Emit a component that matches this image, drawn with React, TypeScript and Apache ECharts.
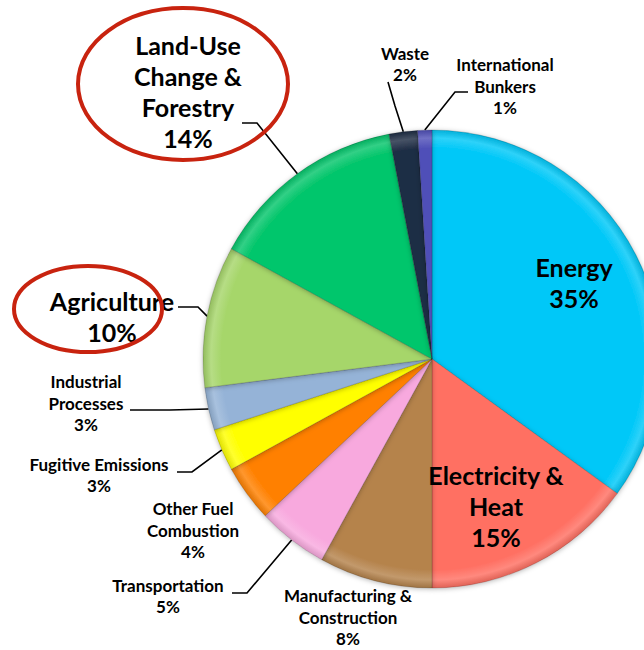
import React, { useEffect, useRef } from "react";
import * as echarts from "echarts";

const categories = [
  "Energy",
  "Electricity & Heat",
  "Manufacturing & Construction",
  "Transportation",
  "Other Fuel Combustion",
  "Fugitive Emissions",
  "Industrial Processes",
  "Agriculture",
  "Land-Use Change & Forestry",
  "Waste",
  "International Bunkers",
];
const values = [35, 15, 8, 5, 4, 3, 3, 10, 14, 2, 1];
const labelTexts = [
  "Energy",
  "Electricity &\nHeat",
  "Manufacturing &\nConstruction",
  "Transportation",
  "Other Fuel\nCombustion",
  "Fugitive Emissions",
  "Industrial\nProcesses",
  "Agriculture",
  "Land-Use\nChange &\nForestry",
  "Waste",
  "International\nBunkers",
];
const colors = [
  "#00C8F8",
  "#FF6F62",
  "#B5834C",
  "#F8A9DE",
  "#FF8000",
  "#FFFF00",
  "#95B3D7",
  "#A6D66A",
  "#05C66C",
  "#1F2D45",
  "#5050B8",
];
const bigLabels = [0, 1, 7, 8];
const insideLabels = [0, 1];
const noLineLabels = [0, 1, 2, 4];

// label placement (center x, middle y) and label-side leader points
const labelPos: number[][] = [
  [574, 282],
  [496, 506],
  [348, 617],
  [168, 596],
  [193, 530],
  [99, 475],
  [86, 403],
  [112, 316],
  [188, 91],
  [405, 64],
  [505, 86],
];
const leaderPts: (number[][] | null)[] = [
  null,
  null,
  null,
  [[247, 593], [232, 593]],
  null,
  [[192, 472], [177, 472]],
  [[170, 410], [130, 410]],
  [[198, 307], [178, 307]],
  [[257, 123], [242, 123]],
  [[395, 106], [388, 82]],
  [[455, 92], [468, 92]],
];

const CX = 432;
const CY = 359;
const R = 229;

function shade(hex: string, f: number): string {
  const n = parseInt(hex.slice(1), 16);
  let r = (n >> 16) & 255,
    g = (n >> 8) & 255,
    b = n & 255;
  if (f >= 0) {
    r = Math.round(r + (255 - r) * f);
    g = Math.round(g + (255 - g) * f);
    b = Math.round(b + (255 - b) * f);
  } else {
    r = Math.round(r * (1 + f));
    g = Math.round(g * (1 + f));
    b = Math.round(b * (1 + f));
  }
  return `rgb(${r},${g},${b})`;
}

export default function App() {
  const ref = useRef<HTMLDivElement>(null);
  useEffect(() => {
    if (!ref.current) return;
    const chart = echarts.init(ref.current, null, { renderer: "svg" });
    const data = categories.map((name, i) => {
      const big = bigLabels.includes(i);
      return {
        name,
        value: values[i],
        itemStyle: {
          color: new echarts.graphic.RadialGradient(
            CX,
            CY,
            R,
            [
              { offset: 0, color: colors[i] },
              { offset: 0.92, color: colors[i] },
              { offset: 0.965, color: shade(colors[i], 0.18) },
              { offset: 1, color: shade(colors[i], -0.12) },
            ],
            true
          ),
        },
        label: {
          position: insideLabels.includes(i) ? "inside" : "outside",
          fontSize: big ? 25 : 17,
          lineHeight: big ? 31 : 21.5,
        },
        labelLine: { show: !noLineLabels.includes(i) },
      };
    });
    chart.setOption({
      animation: false,
      backgroundColor: "#ffffff",
      series: [
        {
          type: "pie",
          center: [CX, CY],
          radius: R,
          startAngle: 90,
          clockwise: true,
          avoidLabelOverlap: false,
          minShowLabelAngle: 0,
          data,
          itemStyle: {
            borderColor: "rgba(0,0,0,0.22)",
            borderWidth: 0.7,
            shadowBlur: 5,
            shadowColor: "rgba(0,0,0,0.28)",
            shadowOffsetY: 1,
          },
          emphasis: { disabled: true },
          label: {
            show: true,
            color: "#000000",
            fontFamily: "Lato, 'Open Sans', sans-serif",
            fontWeight: "bold",
            formatter: (p: any) => `${labelTexts[p.dataIndex]}\n${p.value}%`,
          },
          labelLine: {
            show: true,
            length: 10,
            length2: 10,
            lineStyle: { color: "#000000", width: 1.6 },
          },
          labelLayout: (params: any) => {
            const i = params.dataIndex;
            const pos = labelPos[i];
            const out: any = {
              x: pos[0],
              y: pos[1],
              align: "center",
              verticalAlign: "middle",
            };
            const lp = leaderPts[i];
            if (lp && params.labelLinePoints) {
              const start = params.labelLinePoints[0];
              out.labelLinePoints = [start, lp[0], lp[1]];
            }
            return out;
          },
        },
      ],
      graphic: [
        {
          type: "ellipse",
          shape: { cx: 183, cy: 84, rx: 105, ry: 76 },
          style: { fill: "none", stroke: "#C8230F", lineWidth: 4 },
          z: 100,
        },
        {
          type: "ellipse",
          shape: { cx: 88, cy: 309, rx: 74, ry: 43 },
          style: { fill: "none", stroke: "#C8230F", lineWidth: 4 },
          z: 100,
        },
      ],
    });
    return () => chart.dispose();
  }, []);
  return (
    <div
      ref={ref}
      style={{ position: "fixed", left: 0, top: 0, width: 644, height: 650 }}
    />
  );
}
